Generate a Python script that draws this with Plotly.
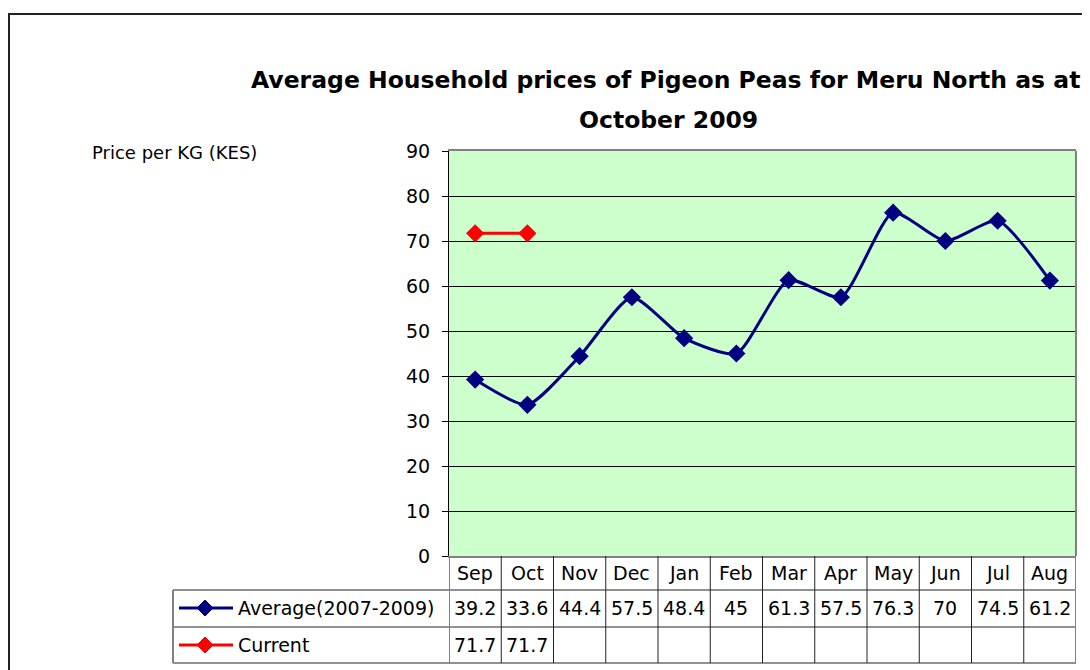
import plotly.graph_objects as go

months = ["Sep", "Oct", "Nov", "Dec", "Jan", "Feb", "Mar", "Apr", "May", "Jun", "Jul", "Aug"]
average = [39.2, 33.6, 44.4, 57.5, 48.4, 45, 61.3, 57.5, 76.3, 70, 74.5, 61.2]
current = [71.7, 71.7, None, None, None, None, None, None, None, None, None, None]
series_names = ["Average(2007-2009)", "Current"]
series_colors = ["#000080", "#FF0000"]
y_ticks = [0, 10, 20, 30, 40, 50, 60, 70, 80, 90]

title_line1 = "Average Household prices of Pigeon Peas for Meru North as at"
title_line2 = "October 2009"
y_title = "Price per KG (KES)"

# page body has an 8px margin; reference pixel positions are shifted by it
OFF = 8
FW, FH = 1090 - OFF, 670 - OFF
L, R, T, B = 449 - OFF, 1076 - OFF, 151 - OFF, 556 - OFF
W, H = R - L, B - T


def px(x):
    return (x - OFF - L) / W


def py(y):
    return (B - (y - OFF)) / H


FONT = "DejaVu Sans"
TFONT = dict(family=FONT, size=19, color="black")

fig = go.Figure()
for name, vals, col in [(series_names[0], average, series_colors[0]),
                        (series_names[1], current, series_colors[1])]:
    fig.add_trace(go.Scatter(
        x=months, y=vals, name=name, mode="lines+markers",
        line=dict(color=col, width=3, shape="spline", smoothing=0.6),
        marker=dict(symbol="diamond", size=14, color=col),
        connectgaps=False, showlegend=False, cliponaxis=False,
    ))

shapes = []
annotations = []

# outer chart border (extends past the cropped edges)
shapes.append(dict(type="rect", xref="paper", yref="paper",
                   x0=px(9), x1=px(1200), y0=py(800), y1=py(14),
                   line=dict(color="#222222", width=2), layer="below"))
# right border of plot area
shapes.append(dict(type="line", xref="paper", yref="paper",
                   x0=1, x1=1, y0=0, y1=1, line=dict(color="#808080", width=2)))

# data table grid
row_lines = [590, 627, 663]
for yy in row_lines:
    shapes.append(dict(type="line", xref="paper", yref="paper",
                       x0=px(173), x1=1, y0=py(yy), y1=py(yy),
                       line=dict(color="#222222", width=1)))
shapes.append(dict(type="line", xref="paper", yref="paper",
                   x0=px(173), x1=px(173), y0=py(590), y1=py(663),
                   line=dict(color="#808080", width=2)))
for i in range(len(months) + 1):
    inner = 0 < i < len(months)
    shapes.append(dict(type="line", xref="x", yref="paper",
                       x0=i - 0.5, x1=i - 0.5, y0=py(556), y1=py(663),
                       line=dict(color="#222222" if inner else "#808080",
                                 width=1 if inner else 2)))

# header row
for m in months:
    annotations.append(dict(x=m, xref="x", y=py(573), yref="paper", text=m,
                            showarrow=False, font=TFONT, xanchor="center", yanchor="middle"))

# value rows + legend keys
row_centers = [608, 645]
for vals, name, col, yc in [(average, series_names[0], series_colors[0], row_centers[0]),
                            (current, series_names[1], series_colors[1], row_centers[1])]:
    for m, v in zip(months, vals):
        if v is None:
            continue
        annotations.append(dict(x=m, xref="x", y=py(yc), yref="paper", text=f"{v:g}",
                                showarrow=False, font=TFONT, xanchor="center", yanchor="middle"))
    annotations.append(dict(x=px(236), xref="paper", y=py(yc), yref="paper", text=name,
                            showarrow=False, font=TFONT, xanchor="left", yanchor="middle"))
    shapes.append(dict(type="line", xref="paper", yref="paper",
                       x0=px(179), x1=px(233), y0=py(yc), y1=py(yc),
                       line=dict(color=col, width=3)))
    cx, cy, r = 205, yc, 8
    path = (f"M {px(cx - r)},{py(cy)} L {px(cx)},{py(cy - r)} "
            f"L {px(cx + r)},{py(cy)} L {px(cx)},{py(cy + r)} Z")
    shapes.append(dict(type="path", xref="paper", yref="paper", path=path,
                       fillcolor=col, line=dict(color=col, width=1)))

# titles
annotations.append(dict(x=px(665), xref="paper", y=py(80), yref="paper", text=f"<b>{title_line1}</b>",
                        showarrow=False, font=dict(family=FONT, size=23.5, color="black"),
                        xanchor="center", yanchor="middle"))
annotations.append(dict(x=px(668), xref="paper", y=py(120), yref="paper", text=f"<b>{title_line2}</b>",
                        showarrow=False, font=dict(family=FONT, size=23.5, color="black"),
                        xanchor="center", yanchor="middle"))
annotations.append(dict(x=px(90), xref="paper", y=py(152), yref="paper", text=y_title,
                        showarrow=False, font=dict(family=FONT, size=18, color="black"),
                        xanchor="left", yanchor="middle"))

fig.update_layout(
    width=FW, height=FH, autosize=False,
    margin=dict(l=L, r=FW - R, t=T, b=FH - B, pad=0),
    paper_bgcolor="white", plot_bgcolor="#CCFFCC",
    font=dict(family=FONT, size=18, color="black"),
    shapes=shapes, annotations=annotations, showlegend=False,
)
fig.update_xaxes(type="category", range=[-0.5, len(months) - 0.5], showticklabels=False,
                 ticks="", showgrid=False, showline=True, linecolor="#808080", linewidth=2,
                 mirror=True, zeroline=False, fixedrange=True)
fig.update_yaxes(range=[0, 90], tickvals=y_ticks, showgrid=True, gridcolor="black", gridwidth=1,
                 ticks="outside", ticklen=6, tickcolor="black", showline=True, linecolor="black",
                 linewidth=1, zeroline=False, ticklabelstandoff=8,
                 tickfont=dict(family=FONT, size=19, color="black"), fixedrange=True)

fig.write_html("out.html")
